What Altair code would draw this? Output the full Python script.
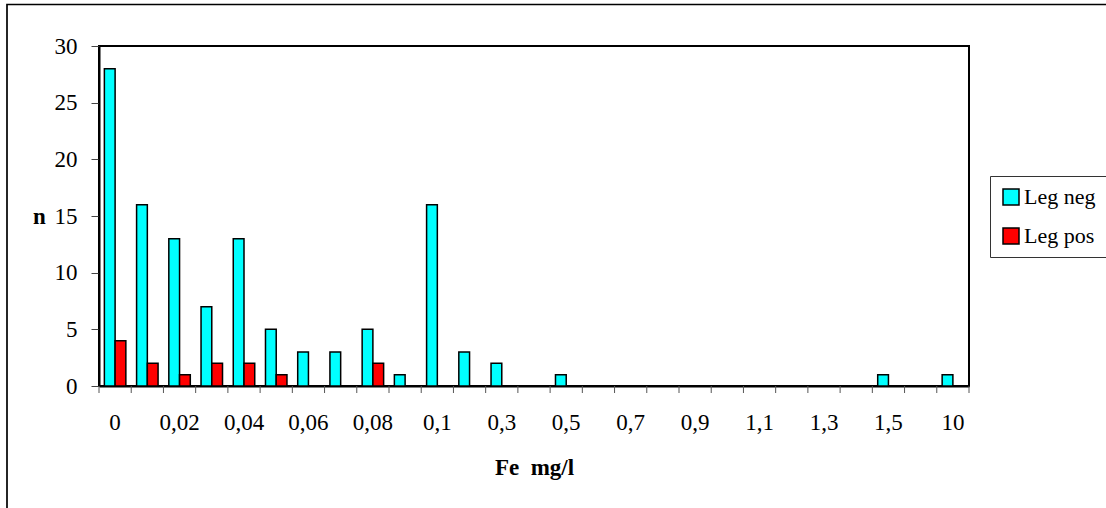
import altair as alt
import pandas as pd

# Fe concentration classes (mg/l), one band each on the x axis
fe_levels = [
    "0", "0,01", "0,02", "0,03", "0,04", "0,05", "0,06", "0,07", "0,08", "0,09",
    "0,1", "0,2", "0,3", "0,4", "0,5", "0,6", "0,7", "0,8", "0,9", "1",
    "1,1", "1,2", "1,3", "1,4", "1,5", "2", "10",
]
# counts per class
leg_neg = [28, 16, 13, 7, 13, 5, 3, 3, 5, 1,
           16, 3, 2, 0, 1, 0, 0, 0, 0, 0,
           0, 0, 0, 0, 1, 0, 1]
leg_pos = [4, 2, 1, 2, 2, 1, 0, 0, 2, 0,
           0, 0, 0, 0, 0, 0, 0, 0, 0, 0,
           0, 0, 0, 0, 0, 0, 0]
series_names = ["Leg neg", "Leg pos"]
series_colors = ["#00FFFF", "#FF0000"]
y_ticks = [0, 5, 10, 15, 20, 25, 30]

W, H = 870, 340
FONT = "Liberation Serif, Times New Roman, serif"

rows = []
for name, values in zip(series_names, [leg_neg, leg_pos]):
    for fe, n in zip(fe_levels, values):
        rows.append({"fe": fe, "series": name, "n": n})
df = pd.DataFrame(rows)

# only every other class gets a label
shown = fe_levels[::2]
label_expr = ("indexof([" + ",".join("'" + s + "'" for s in shown) +
              "], datum.value) >= 0 ? datum.value : ''")

x_scale = alt.Scale(domain=fe_levels, paddingInner=0, paddingOuter=0)
x_axis = alt.Axis(
    title="Fe\u00a0\u00a0mg/l", labelAngle=0, labelExpr=label_expr,
    labelOverlap=False, ticks=False, labelPadding=25,
    bandPosition=0.5, labelFont=FONT, labelFontSize=23,
    titleY=88, titleBaseline="alphabetic",
)

bars = alt.Chart(df).transform_filter("datum.n > 0").mark_bar(
    stroke="black", strokeWidth=1.5
).encode(
    x=alt.X("fe:N", scale=x_scale, sort=fe_levels, axis=x_axis),
    xOffset=alt.XOffset(
        "series:N",
        scale=alt.Scale(domain=series_names, paddingOuter=0.5, paddingInner=0),
    ),
    y=alt.Y(
        "n:Q", scale=alt.Scale(domain=[0, 30], nice=False),
        axis=alt.Axis(
            title="n", values=y_ticks, tickSize=8, labelPadding=14,
            titleAngle=0, titleAlign="center", titleBaseline="alphabetic",
            titleX=-60, titleY=177,
        ),
    ),
    color=alt.Color(
        "series:N",
        scale=alt.Scale(domain=series_names, range=series_colors),
        legend=alt.Legend(
            title=None, orient="none", legendX=891, legendY=130,
            padding=10, fillColor="white", strokeColor="#333",
            symbolType="square", symbolSize=256, symbolStrokeColor="black",
            symbolStrokeWidth=1.5, labelFont=FONT, labelFontSize=22,
            labelColor="black", labelOffset=2, rowPadding=17,
        ),
    ),
)

# tick marks at the band boundaries
ticks_df = pd.DataFrame({"fe": fe_levels})
ticks = alt.Chart(ticks_df).mark_rule(color="#555", strokeWidth=1).encode(
    x=alt.X("fe:N", scale=x_scale, sort=fe_levels, bandPosition=0, axis=x_axis),
    y=alt.value(H), y2=alt.value(H + 7),
)
end_tick = alt.Chart(ticks_df).transform_filter(
    alt.datum.fe == fe_levels[-1]
).mark_rule(color="#555", strokeWidth=1).encode(
    x=alt.X("fe:N", scale=x_scale, sort=fe_levels, bandPosition=1, axis=x_axis),
    y=alt.value(H), y2=alt.value(H + 7),
)

# outer border of the chart area
frame = alt.Chart(alt.Data(values=[{"k": 1}])).mark_rect(
    fillOpacity=0, stroke="black", strokeWidth=1.7
).encode(
    x=alt.value(-92), x2=alt.value(1200),
    y=alt.value(-41.5), y2=alt.value(700),
)

chart = alt.layer(frame, bars, ticks, end_tick).properties(
    width=W, height=H,
    autosize=alt.AutoSizeParams(type="none"),
    padding={"left": 99, "top": 46, "right": 137, "bottom": 122},
    background="white",
).configure_view(
    stroke="black", strokeWidth=2
).configure_axis(
    grid=False, domainColor="black", domainWidth=2,
    tickColor="#444", tickWidth=1,
    labelFont=FONT, labelFontSize=23, labelColor="black",
    titleFont=FONT, titleFontSize=23, titleFontWeight="bold", titleColor="black",
)

chart.save("out.html", embed_options={"renderer": "svg", "actions": False})
